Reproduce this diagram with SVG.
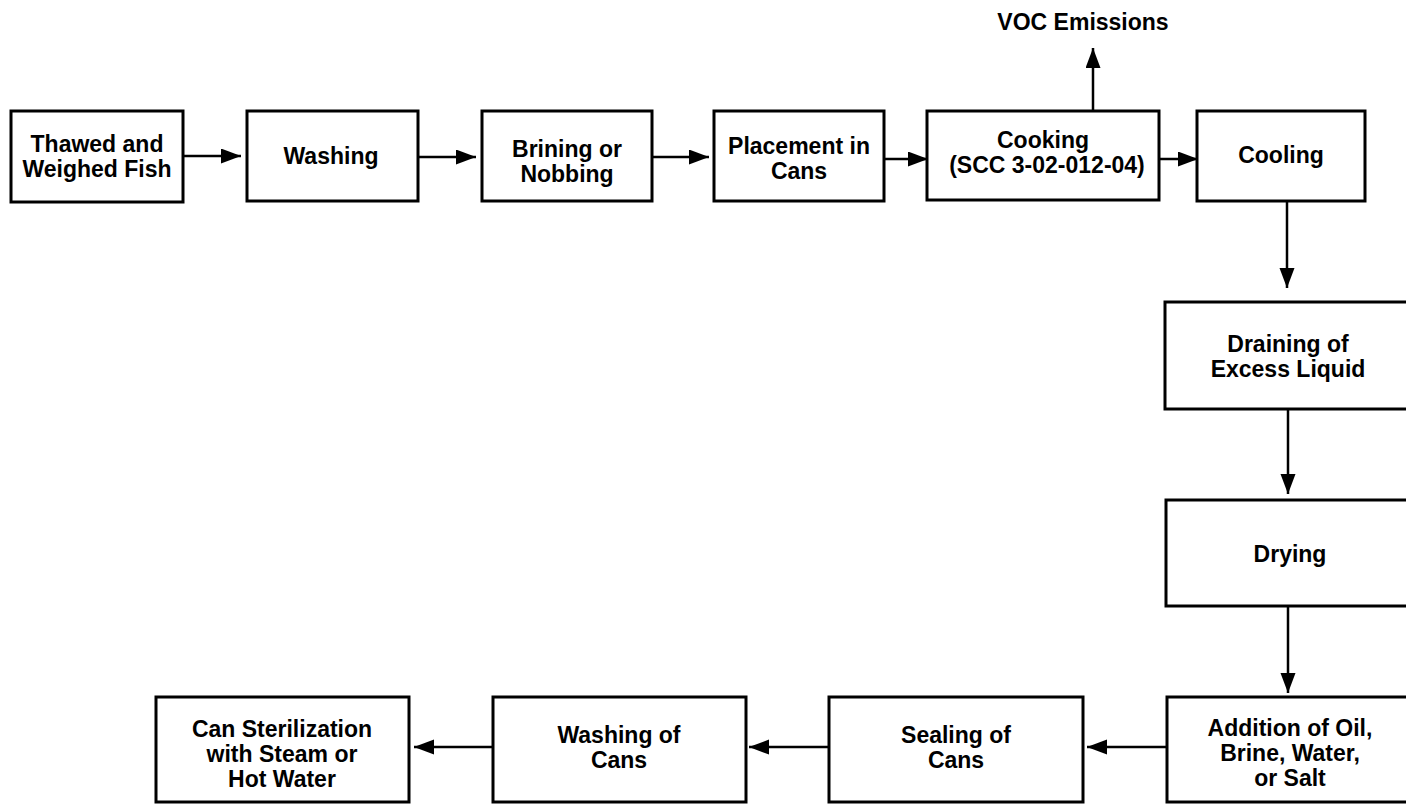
<svg xmlns="http://www.w3.org/2000/svg" width="1406" height="805" viewBox="0 0 1406 805">
  <style>
    .box { fill: #fff; stroke: #000; stroke-width: 3; }
    .lbl { font-family: "Liberation Sans", Arial, Helvetica, sans-serif; font-weight: bold; font-size: 23px; fill: #000; text-anchor: middle; }
    .flow { stroke: #000; stroke-width: 2.5; fill: none; marker-end: url(#head); }
  </style>
  <defs>
    <marker id="head" markerUnits="userSpaceOnUse" markerWidth="21" markerHeight="16" refX="20" refY="7.5" orient="auto">
      <path d="M0,0 L20,7.5 L0,15 Z" fill="#000"/>
    </marker>
  </defs>
  <rect width="1406" height="805" fill="#fff"/>

  <g id="connectors">
    <line class="flow" x1="183" y1="156" x2="241" y2="156"/>
    <line class="flow" x1="418" y1="157" x2="476" y2="157"/>
    <line class="flow" x1="652" y1="157" x2="709" y2="157"/>
    <line class="flow" x1="884" y1="159" x2="928" y2="159"/>
    <line class="flow" x1="1093" y1="111" x2="1093" y2="48"/>
    <line class="flow" x1="1159" y1="159" x2="1198" y2="159"/>
    <line class="flow" x1="1287" y1="201" x2="1287" y2="288"/>
    <line class="flow" x1="1288" y1="409" x2="1288" y2="494"/>
    <line class="flow" x1="1288" y1="606" x2="1288" y2="693"/>
    <line class="flow" x1="1167" y1="747" x2="1087" y2="747"/>
    <line class="flow" x1="829" y1="747" x2="749" y2="747"/>
    <line class="flow" x1="493" y1="747" x2="414" y2="747"/>
  </g>

  <g id="voc-emissions">
    <text class="lbl" x="1083" y="30">VOC Emissions</text>
  </g>

  <g id="thawed-fish">
    <rect class="box" x="11" y="111" width="172" height="91"/>
    <text class="lbl" x="97" y="152">Thawed and</text>
    <text class="lbl" x="97" y="177">Weighed Fish</text>
  </g>

  <g id="washing">
    <rect class="box" x="247" y="111" width="171" height="90"/>
    <text class="lbl" x="331" y="164">Washing</text>
  </g>

  <g id="brining">
    <rect class="box" x="482" y="111" width="170" height="90"/>
    <text class="lbl" x="567" y="157">Brining or</text>
    <text class="lbl" x="567" y="182">Nobbing</text>
  </g>

  <g id="placement">
    <rect class="box" x="714" y="111" width="170" height="90"/>
    <text class="lbl" x="799" y="154">Placement in</text>
    <text class="lbl" x="799" y="179">Cans</text>
  </g>

  <g id="cooking">
    <rect class="box" x="927" y="111" width="232" height="89"/>
    <text class="lbl" x="1043" y="148">Cooking</text>
    <text class="lbl" x="1047" y="173">(SCC 3-02-012-04)</text>
  </g>

  <g id="cooling">
    <rect class="box" x="1197" y="111" width="168" height="90"/>
    <text class="lbl" x="1281" y="163">Cooling</text>
  </g>

  <g id="draining">
    <rect class="box" x="1165" y="302" width="250" height="107"/>
    <text class="lbl" x="1288" y="352">Draining of</text>
    <text class="lbl" x="1288" y="377">Excess Liquid</text>
  </g>

  <g id="drying">
    <rect class="box" x="1166" y="500" width="250" height="106"/>
    <text class="lbl" x="1290" y="562">Drying</text>
  </g>

  <g id="addition">
    <rect class="box" x="1167" y="697" width="250" height="105"/>
    <text class="lbl" x="1290" y="736">Addition of Oil,</text>
    <text class="lbl" x="1290" y="761">Brine, Water,</text>
    <text class="lbl" x="1290" y="786">or Salt</text>
  </g>

  <g id="sealing">
    <rect class="box" x="829" y="697" width="254" height="105"/>
    <text class="lbl" x="956" y="743">Sealing of</text>
    <text class="lbl" x="956" y="768">Cans</text>
  </g>

  <g id="washing-cans">
    <rect class="box" x="493" y="697" width="253" height="105"/>
    <text class="lbl" x="619" y="743">Washing of</text>
    <text class="lbl" x="619" y="768">Cans</text>
  </g>

  <g id="sterilization">
    <rect class="box" x="156" y="697" width="253" height="105"/>
    <text class="lbl" x="282" y="737">Can Sterilization</text>
    <text class="lbl" x="282" y="762">with Steam or</text>
    <text class="lbl" x="282" y="787">Hot Water</text>
  </g>
</svg>
